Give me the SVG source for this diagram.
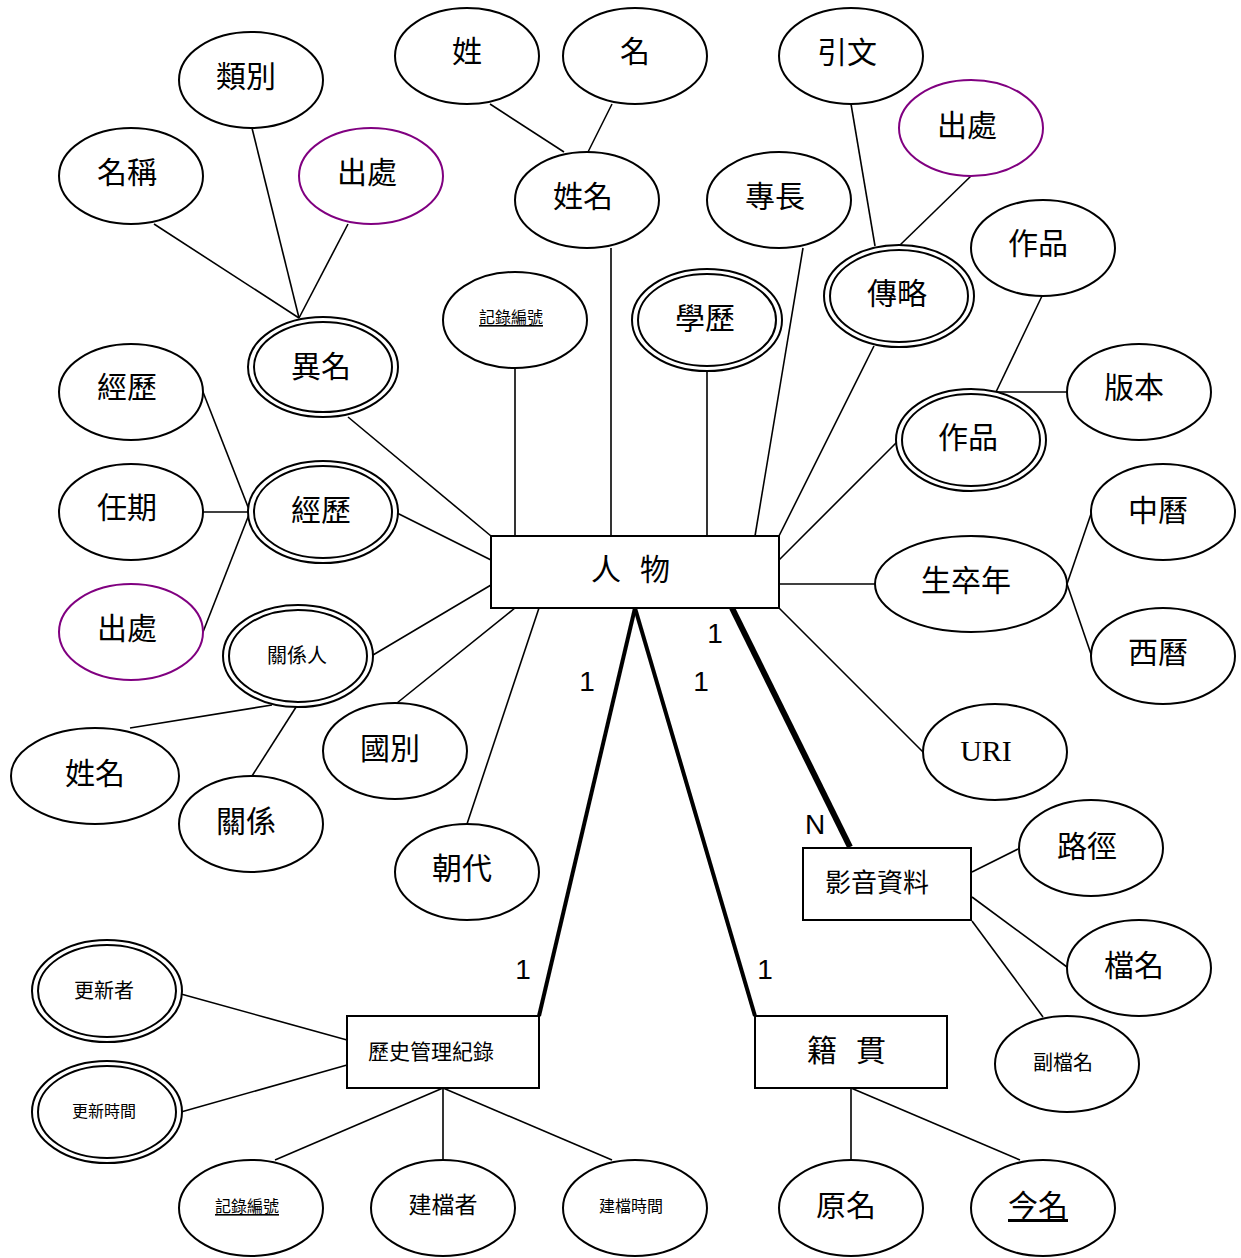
<svg xmlns="http://www.w3.org/2000/svg" width="1241" height="1258" viewBox="0 0 1241 1258">
<style>
.e{fill:#fff;stroke:#000;stroke-width:2}
.p{fill:#fff;stroke:#800080;stroke-width:2}
.r{fill:#fff;stroke:#000;stroke-width:2}
.c line{stroke:#000;stroke-width:1.6}
.t{font-family:"Noto Sans CJK TC","Liberation Sans",sans-serif;font-size:30px;text-anchor:middle;dominant-baseline:central;fill:#000}
.s20{font-size:20px}
.s16{font-size:16px}
.u{text-decoration:underline}
.n{font-family:"Liberation Sans",sans-serif;font-size:28px;text-anchor:middle;dominant-baseline:central}
.serif{font-family:"Liberation Serif",serif}
</style>
<rect width="1241" height="1258" fill="#fff"/>
<g class="c" id="connectors">
<line x1="154" y1="224" x2="299" y2="318"/>
<line x1="252" y1="128" x2="299" y2="318"/>
<line x1="348" y1="224" x2="299" y2="318"/>
<line x1="490" y1="104" x2="564" y2="152"/>
<line x1="612" y1="104" x2="588" y2="152"/>
<line x1="611" y1="248" x2="611" y2="536"/>
<line x1="515" y1="368" x2="515" y2="536"/>
<line x1="707" y1="371" x2="707" y2="536"/>
<line x1="803" y1="248" x2="755" y2="536"/>
<line x1="874" y1="346" x2="779" y2="536"/>
<line x1="851" y1="104" x2="875" y2="246"/>
<line x1="971" y1="176" x2="899" y2="246"/>
<line x1="1042" y1="296" x2="996" y2="392"/>
<line x1="996" y1="392" x2="1067" y2="392"/>
<line x1="899" y1="440" x2="779" y2="560"/>
<line x1="779" y1="584" x2="875" y2="584"/>
<line x1="1067" y1="584" x2="1092" y2="511"/>
<line x1="1067" y1="584" x2="1092" y2="657"/>
<line x1="779" y1="608" x2="923" y2="752"/>
<line x1="348" y1="417" x2="491" y2="536"/>
<line x1="397" y1="513" x2="491" y2="560"/>
<line x1="373" y1="655" x2="491" y2="585"/>
<line x1="397" y1="703" x2="515" y2="608"/>
<line x1="467" y1="824" x2="539" y2="608"/>
<line x1="203" y1="392" x2="250" y2="512"/>
<line x1="203" y1="512" x2="250" y2="512"/>
<line x1="203" y1="632" x2="250" y2="512"/>
<line x1="272" y1="705" x2="130" y2="728"/>
<line x1="298" y1="704" x2="252" y2="776"/>
<line x1="181" y1="994" x2="347" y2="1040"/>
<line x1="181" y1="1112" x2="347" y2="1065"/>
<line x1="443" y1="1088" x2="275" y2="1160"/>
<line x1="443" y1="1088" x2="443" y2="1160"/>
<line x1="443" y1="1088" x2="612" y2="1160"/>
<line x1="851" y1="1088" x2="851" y2="1160"/>
<line x1="851" y1="1088" x2="1020" y2="1160"/>
<line x1="972" y1="872" x2="1018" y2="849"/>
<line x1="972" y1="897" x2="1067" y2="967"/>
<line x1="972" y1="921" x2="1043" y2="1017"/>
<line x1="732" y1="608" x2="850" y2="847" style="stroke-width:6"/>
<line x1="635" y1="608" x2="539" y2="1016" style="stroke-width:4"/>
<line x1="635" y1="608" x2="755" y2="1016" style="stroke-width:4"/>
</g>
<g id="labels">
<text class="n" x="715" y="633">1</text>
<text class="n" x="587" y="681">1</text>
<text class="n" x="701" y="681">1</text>
<text class="n" x="815" y="824">N</text>
<text class="n" x="523" y="969">1</text>
<text class="n" x="765" y="969">1</text>
</g>
<g id="n-renwu"><rect class="r" x="491" y="536" width="288" height="72"/><text class="t" y="567"><tspan x="606">人</tspan><tspan x="655">物</tspan></text></g>
<g id="n-leibie"><ellipse class="e" cx="251" cy="80" rx="72" ry="48"/><text class="t" x="246" y="74">類別</text></g>
<g id="n-mingcheng"><ellipse class="e" cx="131" cy="176" rx="72" ry="48"/><text class="t" x="127" y="170">名稱</text></g>
<g id="n-chuchu1"><ellipse class="p" cx="371" cy="176" rx="72" ry="48"/><text class="t" x="367" y="170">出處</text></g>
<g id="n-yiming"><ellipse class="e" cx="323" cy="367" rx="75" ry="50"/><ellipse class="e" cx="323" cy="367" rx="69" ry="45"/><text class="t" x="321" y="364">異名</text></g>
<g id="n-xing"><ellipse class="e" cx="467" cy="56" rx="72" ry="48"/><text class="t" x="467" y="49">姓</text></g>
<g id="n-ming"><ellipse class="e" cx="635" cy="56" rx="72" ry="48"/><text class="t" x="635" y="49">名</text></g>
<g id="n-xingming"><ellipse class="e" cx="587" cy="200" rx="72" ry="48"/><text class="t" x="583" y="194">姓名</text></g>
<g id="n-zhuanchang"><ellipse class="e" cx="779" cy="200" rx="72" ry="48"/><text class="t" x="775" y="194">專長</text></g>
<g id="n-jilubianhao1"><ellipse class="e" cx="515" cy="320" rx="72" ry="48"/><text class="t s16 u" x="511" y="316">記錄編號</text></g>
<g id="n-xueli"><ellipse class="e" cx="707" cy="320" rx="75" ry="51"/><ellipse class="e" cx="707" cy="320" rx="69" ry="46"/><text class="t" x="705" y="316">學歷</text></g>
<g id="n-yinwen"><ellipse class="e" cx="851" cy="56" rx="72" ry="48"/><text class="t" x="847" y="50">引文</text></g>
<g id="n-chuchu2"><ellipse class="p" cx="971" cy="128" rx="72" ry="48"/><text class="t" x="967" y="123">出處</text></g>
<g id="n-zhuanlue"><ellipse class="e" cx="899" cy="296" rx="75" ry="51"/><ellipse class="e" cx="899" cy="296" rx="69" ry="46"/><text class="t" x="897" y="291">傳略</text></g>
<g id="n-zuopin1"><ellipse class="e" cx="1043" cy="248" rx="72" ry="48"/><text class="t" x="1038" y="241">作品</text></g>
<g id="n-banben"><ellipse class="e" cx="1139" cy="392" rx="72" ry="48"/><text class="t" x="1134" y="385">版本</text></g>
<g id="n-zuopin2"><ellipse class="e" cx="971" cy="440" rx="75" ry="51"/><ellipse class="e" cx="971" cy="440" rx="69" ry="46"/><text class="t" x="968" y="435">作品</text></g>
<g id="n-shengzunian"><ellipse class="e" cx="971" cy="584" rx="96" ry="48"/><text class="t" x="966" y="578">生卒年</text></g>
<g id="n-zhongli"><ellipse class="e" cx="1163" cy="512" rx="72" ry="48"/><text class="t" x="1158" y="508">中曆</text></g>
<g id="n-xili"><ellipse class="e" cx="1163" cy="656" rx="72" ry="48"/><text class="t" x="1158" y="650">西曆</text></g>
<g id="n-uri"><ellipse class="e" cx="995" cy="752" rx="72" ry="48"/><text class="t serif" x="986" y="750">URI</text></g>
<g id="n-jingli1"><ellipse class="e" cx="131" cy="392" rx="72" ry="48"/><text class="t" x="127" y="385">經歷</text></g>
<g id="n-renqi"><ellipse class="e" cx="131" cy="512" rx="72" ry="48"/><text class="t" x="127" y="505">任期</text></g>
<g id="n-chuchu3"><ellipse class="p" cx="131" cy="632" rx="72" ry="48"/><text class="t" x="127" y="626">出處</text></g>
<g id="n-jingli2"><ellipse class="e" cx="323" cy="512" rx="75" ry="51"/><ellipse class="e" cx="323" cy="512" rx="69" ry="46"/><text class="t" x="321" y="508">經歷</text></g>
<g id="n-guanxiren"><ellipse class="e" cx="298" cy="656" rx="75" ry="51"/><ellipse class="e" cx="298" cy="656" rx="69" ry="46"/><text class="t s20" x="297" y="654">關係人</text></g>
<g id="n-xingming2"><ellipse class="e" cx="95" cy="776" rx="84" ry="48"/><text class="t" x="95" y="771">姓名</text></g>
<g id="n-guanxi"><ellipse class="e" cx="251" cy="824" rx="72" ry="48"/><text class="t" x="246" y="819">關係</text></g>
<g id="n-guobie"><ellipse class="e" cx="395" cy="751" rx="72" ry="48"/><text class="t" x="390" y="746">國別</text></g>
<g id="n-chaodai"><ellipse class="e" cx="467" cy="872" rx="72" ry="48"/><text class="t" x="462" y="866">朝代</text></g>
<g id="n-yingyin"><rect class="r" x="803" y="848" width="168" height="72"/><text class="t" x="877" y="880" style="font-size:26px">影音資料</text></g>
<g id="n-lujing"><ellipse class="e" cx="1091" cy="848" rx="72" ry="48"/><text class="t" x="1087" y="844">路徑</text></g>
<g id="n-dangming"><ellipse class="e" cx="1139" cy="968" rx="72" ry="48"/><text class="t" x="1134" y="963">檔名</text></g>
<g id="n-fudangming"><ellipse class="e" cx="1067" cy="1064" rx="72" ry="48"/><text class="t s20" x="1063" y="1061">副檔名</text></g>
<g id="n-jiguan"><rect class="r" x="755" y="1016" width="192" height="72"/><text class="t" y="1048"><tspan x="822">籍</tspan><tspan x="871">貫</tspan></text></g>
<g id="n-yuanming"><ellipse class="e" cx="851" cy="1208" rx="72" ry="48"/><text class="t" x="846" y="1203">原名</text></g>
<g id="n-jinming"><ellipse class="e" cx="1043" cy="1208" rx="72" ry="48"/><text class="t u" x="1038" y="1203">今名</text></g>
<g id="n-lishi"><rect class="r" x="347" y="1016" width="192" height="72"/><text class="t" x="431" y="1050" style="font-size:21px">歷史管理紀錄</text></g>
<g id="n-gengxinzhe"><ellipse class="e" cx="107" cy="991" rx="75" ry="51"/><ellipse class="e" cx="107" cy="991" rx="69" ry="46"/><text class="t s20" x="104" y="989">更新者</text></g>
<g id="n-gengxinshijian"><ellipse class="e" cx="107" cy="1112" rx="75" ry="51"/><ellipse class="e" cx="107" cy="1112" rx="69" ry="46"/><text class="t s16" x="104" y="1110">更新時間</text></g>
<g id="n-jilubianhao2"><ellipse class="e" cx="251" cy="1208" rx="72" ry="48"/><text class="t s16 u" x="247" y="1205">記錄編號</text></g>
<g id="n-jiandangzhe"><ellipse class="e" cx="443" cy="1208" rx="72" ry="48"/><text class="t" x="443" y="1203" style="font-size:23px">建檔者</text></g>
<g id="n-jiandangshijian"><ellipse class="e" cx="635" cy="1208" rx="72" ry="48"/><text class="t s16" x="631" y="1205">建檔時間</text></g>
</svg>
